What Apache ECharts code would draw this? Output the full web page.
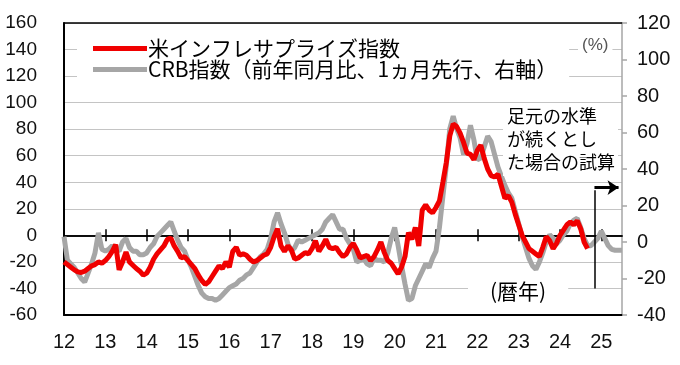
<!DOCTYPE html>
<html>
<head>
<meta charset="utf-8">
<script src="https://cdn.jsdelivr.net/npm/echarts@6/dist/echarts.min.js"></script>
<style>
html,body{margin:0;padding:0;background:#fff;}
#chart{width:680px;height:365px;}
</style>
</head>
<body>
<div id="chart"></div>
<script>
// ---- data (monthly, starting Jan 2012) ----
const startYear = 2012;
const monthCount = 163; // Jan 2012 .. Jul 2025
const yearLabels = ['12','13','14','15','16','17','18','19','20','21','22','23','24','25'];

const redName = '米インフレサプライズ指数';
const crbName = 'CRB指数（前年同月比、1ヵ月先行、右軸）';

// US inflation surprise index (left axis), Jan 2012 .. Sep 2024
const redValues = [
  -20,-22,-24,-26,-27.5,-28,-27,-25,-23,-22,-20,-21,
  -19,-16,-12,-7,-26,-20,-12.5,-20,-22.5,-25,-27,-30,
  -28.5,-24,-18,-14,-11,-8,-3,-2,-8,-12,-17,-16,
  -19,-22,-25,-30,-34,-37,-35,-31,-27,-23,-25,-20,
  -24,-12,-9,-15,-14,-15,-18,-20,-19,-17,-15,-14,
  -9,-1,5,-8,-12,-8,-11,-18,-17,-15,-13,-14,
  -10,-4,-12,-8,-3,-9,-10,-9,-13,-16,-14,-9,
  -6,-11,-17,-16,-15,-19,-16,-11,-5,-13,-19,-21,
  -25,-29,-24,-16,2,-3,6,-8,19,23,19,17,
  21,26,40,55,75,84,82,77,70,62,61,57,
  64,68,58,50,45,44,46,37,28,30,25,16,
  8,0,-5,-10,-12,-14,-16,-9,-1,-4,-10,-6,
  0,4,8,10,8,11,5,-5,-10
];

// CRB index y/y % (1 month lead, right axis), Jan 2012 .. Jul 2025
const crbValues = [
  3,-10,-12,-14,-17,-20,-22,-17,-12,-6,5,-4,
  -5,-4,-2,-4,-5,0,2,-3,-5,-5,-7,-7,
  -6,-3,-1,3,5,7,9,11,6,1,-3,-5,
  -10,-14,-19,-24,-28,-30,-31,-31,-32,-31,-29,-27,
  -25,-24,-23,-21,-20,-18,-17,-14,-11,-8,-6.5,-4,
  2,11,16,10,5,-1,-5,-3,1,0,1,2,
  3,4,5,7,11,13,15,11,7,7,2,-1,
  -4,-11,-10,-9,-12,-13,-9,-10,-10,-11,-6,2,
  8,-2,-13,-23,-32,-31,-24,-20,-16,-12,-14,-9,
  -5,8,25,42,62,69,62,57,48,54,64,56,
  45,46,52,58,55,48,41,36,31,27,24,17,
  10,3,-3,-9,-13,-15,-11,-6,0,4,2,-1,
  1,4,6,10,12,13,8,2,-2,-2,0,2,
  6,2,-2,-4,-4.5,-4.5,-4.5
];

const categories = [];
for (let i = 0; i < monthCount; i++) {
  const y = startYear + Math.floor(i / 12);
  const m = (i % 12) + 1;
  categories.push(y + '/' + (m < 10 ? '0' + m : m));
}

// ---- chart ----
const numFont = 'Liberation Sans';
const jpFont = 'Noto Sans CJK JP';
const chart = echarts.init(document.getElementById('chart'), null, {renderer: 'canvas'});

const baseX = {
  type: 'category',
  data: categories,
  boundaryGap: false,
  gridIndex: 0
};

chart.setOption({
  animation: false,
  backgroundColor: '#fff',
  grid: {left: 64, right: 58, top: 23, bottom: 50, containLabel: false},
  legend: {
    data: [redName, crbName],
    orient: 'vertical',
    left: 77,
    top: 33,
    padding: [5, 12, 5, 16],
    backgroundColor: '#fff',
    itemWidth: 54,
    itemHeight: 5,
    itemGap: 0,
    icon: 'rect',
    selectedMode: false,
    textStyle: {fontFamily: jpFont, fontSize: 21, lineHeight: 21, color: '#000', padding: [0, 0, 0, -4]}
  },
  xAxis: [
    Object.assign({}, baseX, {
      position: 'bottom',
      axisLine: {onZero: false, lineStyle: {color: '#000', width: 2}},
      axisTick: {show: false},
      axisLabel: {
        interval: 11,
        margin: 17,
        fontFamily: numFont,
        fontSize: 20,
        color: '#111',
        formatter: function (v, idx) { return yearLabels[Math.round(idx / 12)]; }
      },
      splitLine: {show: false}
    }),
    Object.assign({}, baseX, {
      position: 'bottom',
      axisLine: {onZero: true, onZeroAxisIndex: 0, lineStyle: {color: '#000', width: 1.5}},
      axisTick: {show: true, interval: 11, inside: true, length: 6, lineStyle: {color: '#000', width: 1.5}},
      axisLabel: {show: false},
      splitLine: {show: false}
    }),
    Object.assign({}, baseX, {
      position: 'bottom',
      axisLine: {onZero: true, onZeroAxisIndex: 0, lineStyle: {color: '#000', width: 1.5}},
      axisTick: {show: true, interval: 11, inside: false, length: 6, lineStyle: {color: '#000', width: 1.5}},
      axisLabel: {show: false},
      splitLine: {show: false}
    }),
    Object.assign({}, baseX, {
      position: 'top',
      axisLine: {onZero: false, lineStyle: {color: '#000', width: 1.5}},
      axisTick: {show: false},
      axisLabel: {show: false},
      splitLine: {show: false}
    })
  ],
  yAxis: [
    {
      type: 'value',
      position: 'left',
      min: -60, max: 160, interval: 20,
      axisLine: {show: true, onZero: false, lineStyle: {color: '#000', width: 2}},
      axisTick: {show: false},
      axisLabel: {margin: 27, fontFamily: numFont, fontSize: 19, color: '#111'},
      splitLine: {show: true, lineStyle: {color: '#c4c4c4', width: 1}}
    },
    {
      type: 'value',
      position: 'right',
      min: -40, max: 120, interval: 20,
      axisLine: {show: true, onZero: false, lineStyle: {color: '#a6a6a6', width: 1.5}},
      axisTick: {show: true, inside: false, length: 5, lineStyle: {color: '#a6a6a6', width: 1.5}},
      axisLabel: {margin: 15, fontFamily: numFont, fontSize: 20, color: '#111'},
      splitLine: {show: false}
    }
  ],
  series: [
    {
      name: crbName,
      type: 'line',
      xAxisIndex: 0,
      yAxisIndex: 1,
      data: crbValues,
      symbol: 'none',
      color: '#a6a6a6',
      lineStyle: {color: '#a6a6a6', width: 5},
      z: 2
    },
    {
      name: redName,
      type: 'line',
      xAxisIndex: 0,
      yAxisIndex: 0,
      data: redValues,
      symbol: 'none',
      color: '#f00000',
      lineStyle: {color: '#f00000', width: 5},
      z: 3,
      markLine: {
        silent: true,
        symbol: ['none', 'none'],
        label: {show: false},
        data: [
          [
            {coord: [categories[154], -40], lineStyle: {color: '#000', width: 1.5, type: 'solid'}},
            {coord: [categories[154], 34]}
          ],
          [
            {coord: [categories[154], 36], symbol: 'none', lineStyle: {color: '#000', width: 3, type: 'solid'}},
            {coord: [categories[161], 36], symbol: 'arrow', symbolSize: [11, 11]}
          ]
        ]
      }
    }
  ],
  graphic: [
    {
      type: 'text',
      left: 578, top: 36,
      z: 10,
      style: {text: '(%)', font: '17px "Liberation Sans"', fill: '#555', backgroundColor: '#fff', padding: [1, 4]}
    },
    {
      type: 'text',
      left: 503, top: 103,
      z: 10,
      style: {
        text: '足元の水準\nが続くとし\nた場合の試算',
        font: '18px "Noto Sans CJK JP"',
        lineHeight: 23,
        fill: '#000',
        backgroundColor: '#fff',
        padding: [2, 3, 2, 4]
      }
    },
    {
      type: 'text',
      left: 468, top: 281,
      z: 10,
      style: {
        text: '(暦年)',
        font: '21px "Noto Sans CJK JP"',
        fill: '#000',
        backgroundColor: '#fff',
        padding: [0, 22, 0, 22]
      }
    }
  ]
});
</script>
</body>
</html>
